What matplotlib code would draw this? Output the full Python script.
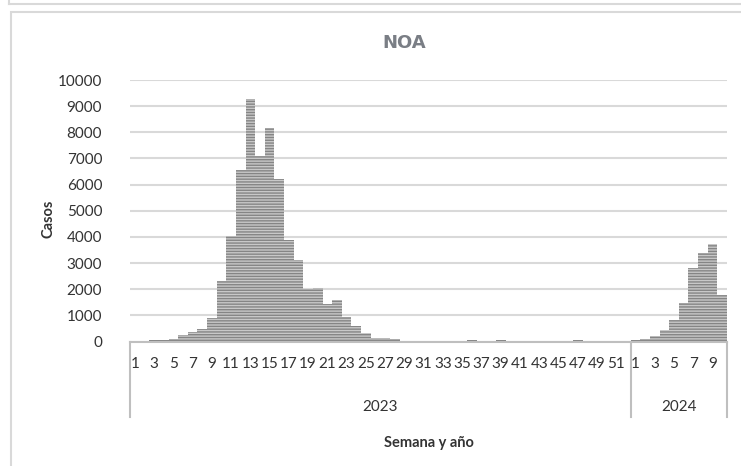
import matplotlib
matplotlib.use("Agg")
from matplotlib import pyplot as plt
from matplotlib.patches import Rectangle
import matplotlib.transforms as mtransforms

# Casos por semana epidemiológica, región NOA
casos_2023 = [20, 30, 40, 50, 80, 250, 350, 470, 890, 2300,
              4030, 6560, 9260, 7110, 8160, 6210, 3880, 3100, 2000, 2050,
              1450, 1580, 950, 600, 340, 130, 120, 110, 30, 30,
              30, 30, 30, 30, 30, 60, 30, 30, 60, 30,
              30, 30, 30, 30, 30, 30, 50, 30, 30, 30,
              30, 30]
casos_2024 = [40, 110, 210, 440, 830, 1470, 2820, 3400, 3710, 1790]
anios = ["2023", "2024"]
y_ticks = [0, 1000, 2000, 3000, 4000, 5000, 6000, 7000, 8000, 9000, 10000]

plt.rcParams['font.family'] = ['Lato', 'DejaVu Sans']
plt.rcParams['hatch.linewidth'] = 1.0
plt.rcParams['hatch.color'] = '#8c8c8c'

fig = plt.figure(figsize=(7.41, 4.66), dpi=100)
ax = fig.add_axes([130 / 741, 1 - 341.5 / 466, 597 / 741, 261.5 / 466])

# marco del gráfico
linea_gris = '#d9d9d9'
fig.patches.append(Rectangle((11 / 741, -0.1), 1.1, 1 - 12 / 466 + 0.1,
                             transform=fig.transFigure, fill=False,
                             edgecolor=linea_gris, linewidth=1.5))
fig.lines.append(plt.Line2D([9 / 741, 1], [1 - 4 / 466, 1 - 4 / 466],
                            transform=fig.transFigure, color=linea_gris, lw=1.5))
fig.lines.append(plt.Line2D([9 / 741, 9 / 741], [1 - 4 / 466, 1],
                            transform=fig.transFigure, color=linea_gris, lw=1.5))

valores = casos_2023 + casos_2024
x = list(range(len(valores)))
ax.bar(x, valores, width=1.0, facecolor='#c8c8c8', edgecolor='#858585',
       linewidth=0, hatch='------', zorder=2)

ax.set_xlim(-0.5, len(valores) - 0.5)
ax.set_ylim(0, 10000)
ax.set_yticks(y_ticks)
ax.set_yticklabels([str(v) for v in y_ticks], fontsize=11, color='#333333')
ax.grid(axis='y', color=linea_gris, linewidth=1.5, zorder=0)
ax.tick_params(axis='y', length=0, pad=20)
for lado in ['top', 'right', 'left']:
    ax.spines[lado].set_visible(False)
ax.spines['bottom'].set_color('#bfbfbf')
ax.spines['bottom'].set_linewidth(1.5)

# etiquetas de semana (impares) por año
pos = []
etiquetas = []
for i in range(len(casos_2023)):
    if (i + 1) % 2 == 1:
        pos.append(i)
        etiquetas.append(str(i + 1))
for i in range(len(casos_2024)):
    if (i + 1) % 2 == 1:
        pos.append(len(casos_2023) + i)
        etiquetas.append(str(i + 1))
ax.set_xticks(pos)
ax.set_xticklabels(etiquetas, fontsize=11, color='#333333')
ax.tick_params(axis='x', length=0, pad=11)

# eje de categorías agrupado por año
trans = mtransforms.blended_transform_factory(ax.transData, ax.transAxes)
n23 = len(casos_2023)
n = len(valores)
for xs in [-0.5, n23 - 0.5, n - 0.5]:
    ax.plot([xs, xs], [0, -0.29], transform=trans, color='#bfbfbf',
            lw=1.5, clip_on=False)
ax.text((n23 - 1) / 2, -0.25, anios[0], transform=trans, ha='center',
        va='center', fontsize=11, color='#333333')
ax.text(n23 + (len(casos_2024) - 1) / 2, -0.25, anios[1], transform=trans,
        ha='center', va='center', fontsize=11, color='#333333')

ax.set_xlabel("Semana y año", fontsize=10.5, fontweight='bold',
              color='#333333', labelpad=0)
ax.xaxis.set_label_coords(0.5, -0.36)
ax.set_ylabel("Casos", fontsize=10.5, fontweight='bold', color='#333333')
ax.yaxis.set_label_coords(-0.125, 0.47)

fig.text(404 / 741, 1 - 43 / 466, "NOA", ha='center', va='center',
         fontsize=13, fontweight='bold', color='#7a7e85',
         family=['DejaVu Sans'])

fig.savefig("out.png", dpi=100)
